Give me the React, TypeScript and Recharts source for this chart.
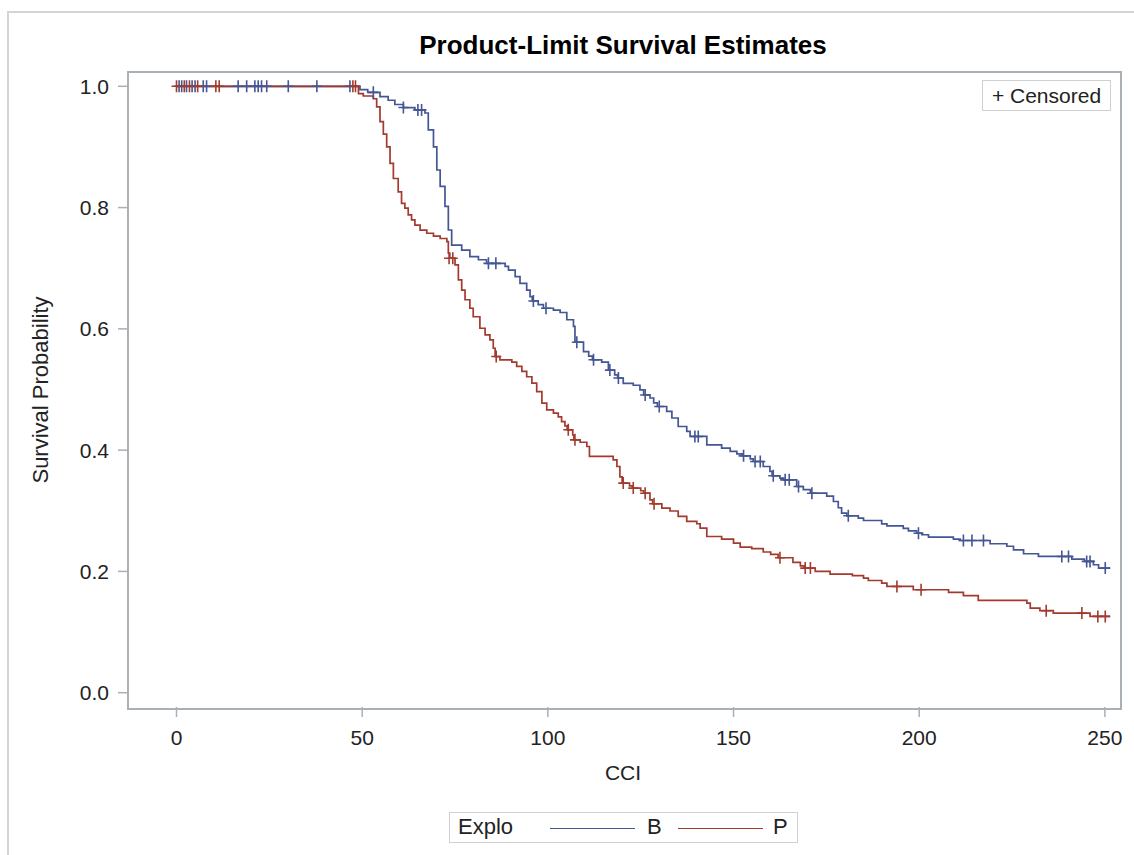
import React from 'react';
import { ComposedChart, Line, Scatter, XAxis, YAxis } from 'recharts';

// step points (CCI, survival) where each new level starts
const stepsB = [
  [0, 1.0], [49.4, 0.9945], [51.5, 0.99], [54.8, 0.983], [57.0, 0.977], [58.8, 0.97],
  [61.1, 0.965], [64.2, 0.961], [66.9, 0.956], [67.8, 0.928], [69.2, 0.9], [70.1, 0.862],
  [71.0, 0.835], [72.3, 0.802], [73.2, 0.763], [74.1, 0.738], [76.8, 0.73], [79.0, 0.719],
  [81.3, 0.714], [83.5, 0.708], [88.5, 0.703], [89.4, 0.697], [91.2, 0.686], [92.5, 0.675],
  [94.3, 0.664], [95.2, 0.653], [95.8, 0.646], [97.4, 0.64], [98.8, 0.634], [101.5, 0.631],
  [103.3, 0.627], [105.1, 0.615], [106.9, 0.604], [107.3, 0.578], [109.6, 0.5626], [111.0, 0.555],
  [112.0, 0.549], [114.5, 0.545], [116.3, 0.532], [118.0, 0.524], [118.8, 0.519], [120.3, 0.51],
  [123.0, 0.507], [124.8, 0.4994], [125.8, 0.491], [127.5, 0.486], [128.5, 0.478], [129.5, 0.472],
  [132.0, 0.464], [133.4, 0.453], [135.1, 0.439], [137.4, 0.431], [138.3, 0.4226], [142.8, 0.4088],
  [146.8, 0.4033], [149.1, 0.3978], [150.9, 0.394], [152.3, 0.3906], [154.5, 0.3856], [155.3, 0.3813],
  [158.0, 0.373], [159.8, 0.365], [160.4, 0.3577], [162.5, 0.354], [163.5, 0.351], [167.0, 0.34],
  [168.8, 0.335], [170.7, 0.329], [175.1, 0.324], [176.9, 0.3153], [178.2, 0.305], [179.1, 0.296],
  [180.5, 0.2917], [183.6, 0.288], [185.0, 0.284], [189.9, 0.2785], [191.3, 0.275], [195.7, 0.271],
  [197.1, 0.267], [199.3, 0.263], [200.7, 0.2605], [202.5, 0.2566], [209.2, 0.2533], [211.0, 0.251],
  [219.1, 0.2456], [223.6, 0.2415], [225.4, 0.2355], [228.1, 0.2291], [232.1, 0.2247], [241.1, 0.2203],
  [244.5, 0.2165], [246.9, 0.211], [248.3, 0.2055], [251.4, 0.2055],
];

const stepsP = [
  [0, 1.0], [49.0, 0.988], [50.3, 0.984], [53.0, 0.9795], [53.9, 0.966], [54.8, 0.9417],
  [55.7, 0.921], [56.6, 0.9], [57.5, 0.873], [58.4, 0.848], [59.7, 0.826], [60.6, 0.807],
  [61.5, 0.799], [62.4, 0.788], [63.3, 0.7796], [64.2, 0.771], [65.6, 0.7628], [67.4, 0.7577],
  [69.2, 0.753], [71.0, 0.749], [72.8, 0.744], [73.2, 0.7247], [73.6, 0.7165], [75.0, 0.7055],
  [75.9, 0.6808], [76.8, 0.664], [77.7, 0.648], [79.0, 0.634], [79.9, 0.62], [81.7, 0.601],
  [83.1, 0.59], [84.4, 0.582], [85.3, 0.568], [85.8, 0.5543], [87.1, 0.549], [90.3, 0.545],
  [91.6, 0.538], [93.0, 0.53], [94.3, 0.521], [95.7, 0.5105], [97.0, 0.4966], [98.4, 0.4775],
  [99.7, 0.4665], [101.5, 0.461], [102.8, 0.455], [103.7, 0.447], [104.6, 0.44], [105.2, 0.4335],
  [106.7, 0.425], [107.0, 0.417], [108.7, 0.413], [110.5, 0.406], [111.2, 0.3896], [117.6, 0.384],
  [118.6, 0.373], [119.4, 0.356], [120.0, 0.3456], [122.0, 0.341], [122.8, 0.3374], [125.0, 0.333],
  [125.8, 0.329], [127.5, 0.318], [128.2, 0.3115], [130.7, 0.3044], [132.9, 0.2996], [135.1, 0.2907],
  [137.4, 0.2824], [140.1, 0.2786], [141.0, 0.2714], [142.8, 0.2576], [146.8, 0.2533], [150.0, 0.2467],
  [151.8, 0.2402], [154.9, 0.2375], [158.0, 0.232], [160.0, 0.228], [162.0, 0.2225], [166.0, 0.215],
  [168.0, 0.209], [169.0, 0.2055], [172.0, 0.2], [176.0, 0.1956], [182.0, 0.193], [185.0, 0.189],
  [186.3, 0.185], [189.9, 0.1808], [191.3, 0.1752], [198.4, 0.1698], [207.9, 0.1654], [211.9, 0.16],
  [215.9, 0.1522], [229.0, 0.1478], [229.9, 0.1396], [232.5, 0.1352], [236.1, 0.1313], [246.0, 0.1258],
  [251.4, 0.1258],
];

// censored observations
const censB = [
  [0.7, 1], [1.4, 1], [2.7, 1], [4.2, 1], [5.0, 1], [7.2, 1], [8.1, 1], [16.6, 1], [18.9, 1],
  [21.1, 1], [22.0, 1], [22.9, 1], [24.3, 1], [30.1, 1], [37.8, 1], [46.7, 1], [53.0, 0.99],
  [61.1, 0.965], [65.0, 0.961], [66.0, 0.961], [84.0, 0.708], [86.0, 0.708], [96.1, 0.646],
  [99.5, 0.634], [107.8, 0.578], [112.3, 0.549], [116.7, 0.532], [119.0, 0.519], [126.2, 0.491],
  [130.0, 0.472], [139.6, 0.4226], [140.5, 0.4226], [152.7, 0.3906], [155.8, 0.3813], [157.2, 0.3813],
  [160.7, 0.3577], [163.9, 0.351], [165.0, 0.351], [167.5, 0.34], [171.1, 0.329], [180.9, 0.2917],
  [199.8, 0.263], [211.9, 0.251], [214.2, 0.251], [217.3, 0.251], [238.4, 0.2247], [240.2, 0.2247],
  [245.1, 0.2165], [246.0, 0.2165], [250.1, 0.2055],
];

const censP = [
  [0, 1], [2.1, 1], [3.5, 1], [5.7, 1], [10.6, 1], [11.5, 1], [47.5, 1], [48.2, 1],
  [73.4, 0.7165], [74.4, 0.7165], [86.1, 0.5543], [105.5, 0.4335], [107.3, 0.417], [120.3, 0.3456],
  [123.0, 0.3374], [126.2, 0.329], [128.6, 0.3115], [162.5, 0.2225], [169.3, 0.2055], [170.7, 0.2055],
  [194.0, 0.1752], [200.5, 0.1698], [234.2, 0.1352], [243.8, 0.1313], [248.1, 0.1258], [250.1, 0.1258],
];

const xTicks = [0, 50, 100, 150, 200, 250];
const yTicks = [0, 0.2, 0.4, 0.6, 0.8, 1.0];

const BLUE = '#445694';
const RED = '#A23A2E';
const AXIS = '#a9b0b6';
const FONT = '"Liberation Sans", Arial, sans-serif';

const toPts = (arr: number[][]) => arr.map(([x, y]) => ({ x, y }));

const plus = (color: string) => (props: any) => {
  const { cx, cy } = props;
  return (
    <path
      d={`M${cx - 5},${cy}H${cx + 5}M${cx},${cy - 6}V${cy + 6}`}
      stroke={color}
      strokeWidth={1.6}
      fill="none"
    />
  );
};

const App: React.FC = () => {
  return (
    <div style={{ position: 'absolute', left: 0, top: 0, width: 1134, height: 855, background: '#fff', fontFamily: FONT, overflow: 'hidden' }}>
      {/* outer frame */}
      <div style={{ position: 'absolute', left: 7, top: 11, width: 1140, height: 900, borderLeft: '2px solid #d4d4d4', borderTop: '2px solid #d4d4d4' }} />
      <div style={{ position: 'absolute', left: 0, top: 30, width: 1246, textAlign: 'center', fontSize: 26, fontWeight: 'bold', color: '#000' }}>
        Product-Limit Survival Estimates
      </div>
      <ComposedChart width={1134} height={855} margin={{ top: 72, right: 15, bottom: 108, left: 60 }} style={{ position: 'absolute', left: 0, top: 0 }}>
        <XAxis
          type="number"
          dataKey="x"
          domain={[-13.06, 253.8]}
          ticks={xTicks}
          allowDataOverflow
          height={40}
          axisLine={false}
          tickSize={10}
          tickMargin={13}
          tickLine={{ stroke: AXIS, strokeWidth: 1.5 }}
          tick={{ fill: '#222', fontSize: 21, fontFamily: FONT }}
        />
        <YAxis
          type="number"
          dataKey="y"
          domain={[-0.0236, 1.0236]}
          ticks={yTicks}
          allowDataOverflow
          width={68}
          axisLine={false}
          tickSize={10}
          tickMargin={9}
          tickLine={{ stroke: AXIS, strokeWidth: 1.5 }}
          tick={{ fill: '#222', fontSize: 21, fontFamily: FONT }}
          tickFormatter={(v: number) => v.toFixed(1)}
        />
        <Line data={toPts(stepsB)} dataKey="y" type="stepAfter" stroke={BLUE} strokeWidth={1.7} dot={false} isAnimationActive={false} />
        <Line data={toPts(stepsP)} dataKey="y" type="stepAfter" stroke={RED} strokeWidth={1.7} dot={false} isAnimationActive={false} />
        <Scatter data={toPts(censB)} dataKey="y" shape={plus(BLUE)} isAnimationActive={false} />
        <Scatter data={toPts(censP)} dataKey="y" shape={plus(RED)} isAnimationActive={false} />
      </ComposedChart>
      {/* plot frame */}
      <div style={{ position: 'absolute', left: 127, top: 71, width: 991, height: 635, border: `2px solid ${AXIS}`, pointerEvents: 'none' }} />
      {/* censored inset */}
      <div style={{ position: 'absolute', left: 982, top: 80, width: 127, height: 29, border: '1.5px solid #d0d0d0', display: 'flex', alignItems: 'center', justifyContent: 'center', fontSize: 21, color: '#222', whiteSpace: 'nowrap' }}>
        + Censored
      </div>
      {/* axis labels */}
      <div style={{ position: 'absolute', left: 573, top: 761, width: 100, textAlign: 'center', fontSize: 21, color: '#222' }}>CCI</div>
      <div style={{ position: 'absolute', left: 41, top: 390, width: 0, height: 0 }}>
        <div style={{ position: 'absolute', left: -150, top: -13, width: 300, textAlign: 'center', fontSize: 22, color: '#222', transform: 'rotate(-90deg)', whiteSpace: 'nowrap' }}>
          Survival Probability
        </div>
      </div>
      {/* group legend */}
      <div style={{ position: 'absolute', left: 449, top: 812, width: 347, height: 29, border: '1.5px solid #d0d0d0', fontSize: 22, color: '#222' }}>
        <span style={{ position: 'absolute', left: 8, top: 1 }}>Explo</span>
        <span style={{ position: 'absolute', left: 100, top: 15, width: 85, height: 0, borderTop: `1.5px solid ${BLUE}` }} />
        <span style={{ position: 'absolute', left: 197, top: 1 }}>B</span>
        <span style={{ position: 'absolute', left: 228, top: 15, width: 85, height: 0, borderTop: `1.5px solid ${RED}` }} />
        <span style={{ position: 'absolute', left: 323, top: 1 }}>P</span>
      </div>
    </div>
  );
};

export default App;
